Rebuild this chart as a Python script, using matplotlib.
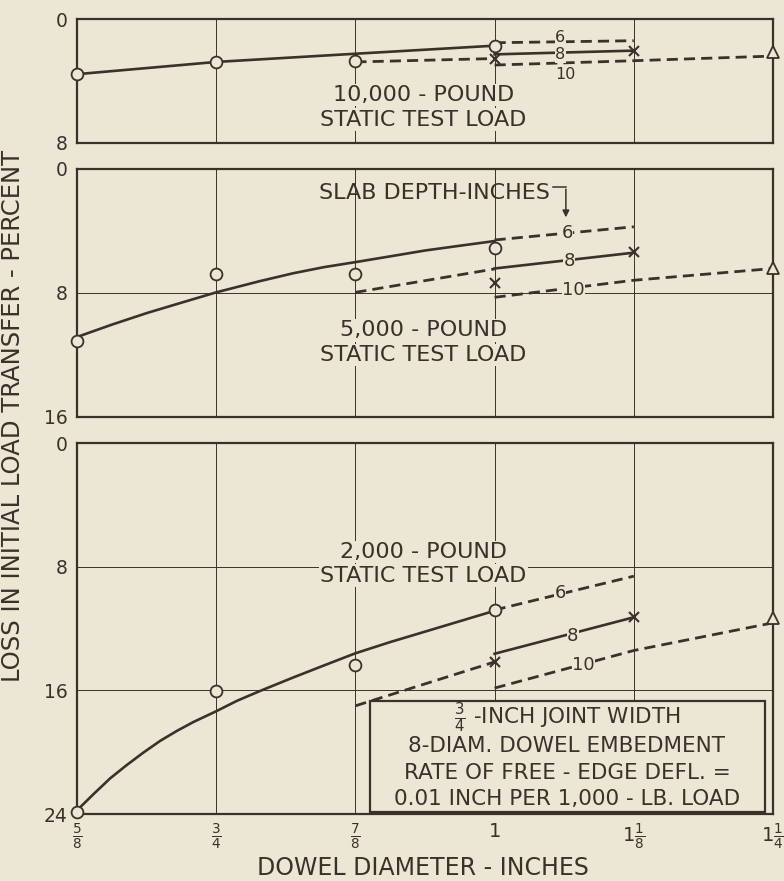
import matplotlib
matplotlib.use('Agg')
import matplotlib.pyplot as plt
from matplotlib.patches import Rectangle

plt.rcParams['font.family'] = ['DejaVu Sans']
plt.rcParams['mathtext.fontset'] = 'dejavusans'

INK = '#3b312b'
PAPER = '#ece6d4'

# dowel diameter axis (inches)
diam_ticks = [0.625, 0.75, 0.875, 1.0, 1.125, 1.25]
diam_labels = [r'$\frac{5}{8}$', r'$\frac{3}{4}$', r'$\frac{7}{8}$', '1',
               r'$1\frac{1}{8}$', r'$1\frac{1}{4}$']
test_diams = [0.625, 0.75, 0.875, 1.0]

# 10,000-pound static test load
l10_curve_x = [0.625, 0.75, 0.875, 1.0]
l10_curve_y = [3.56, 2.77, 2.24, 1.72]
l10_circles = [3.56, 2.77, 2.71, 1.76]
l10_d6_x = [1.0, 1.125]
l10_d6_y = [1.53, 1.40]
l10_d8_dash_x = [0.875, 1.0]
l10_d8_dash_y = [2.77, 2.55]
l10_d8_x = [1.0, 1.125]
l10_d8_y = [2.28, 2.04]
l10_xmarks = [2.6, 2.04]
l10_d10_x = [1.0, 1.125, 1.25]
l10_d10_y = [2.97, 2.69, 2.39]
l10_tri = [2.15]

# 5,000-pound static test load
l5_curve_x = [0.625, 0.656, 0.6875, 0.72, 0.75, 0.789, 0.819, 0.847, 0.875,
              0.906, 0.9375, 0.969, 1.0]
l5_curve_y = [10.84, 10.05, 9.3, 8.6, 7.96, 7.24, 6.73, 6.33, 6.01,
              5.64, 5.26, 4.95, 4.65]
l5_circles = [11.1, 6.77, 6.77, 5.12]
l5_d6_x = [1.0, 1.125]
l5_d6_y = [4.58, 3.73]
l5_d8_dash_x = [0.875, 1.0]
l5_d8_dash_y = [7.96, 6.45]
l5_d8_x = [1.0, 1.125]
l5_d8_y = [6.42, 5.4]
l5_xmarks = [7.35, 5.35]
l5_d10_x = [1.0, 1.125, 1.25]
l5_d10_y = [8.28, 7.18, 6.42]
l5_tri = [6.4]

# 2,000-pound static test load
l2_curve_x = [0.625, 0.6325, 0.64, 0.6548, 0.6697, 0.6847, 0.6996, 0.7145,
              0.7294, 0.75, 0.7685, 0.7893, 0.819, 0.8488, 0.875, 0.906,
              0.9375, 0.969, 1.0]
l2_curve_y = [23.76, 23.23, 22.7, 21.69, 20.83, 20.02, 19.27, 18.63,
              18.05, 17.35, 16.68, 16.04, 15.17, 14.33, 13.6, 12.88,
              12.2, 11.52, 10.85]
l2_circles = [23.9, 16.06, 14.36, 10.8]
l2_d6_x = [1.0, 1.125]
l2_d6_y = [10.8, 8.61]
l2_d8_dash_x = [0.875, 1.0]
l2_d8_dash_y = [17.0, 14.16]
l2_d8_x = [1.0, 1.125]
l2_d8_y = [13.63, 11.27]
l2_xmarks = [14.16, 11.27]
l2_d10_x = [1.0, 1.125, 1.25]
l2_d10_y = [15.85, 13.42, 11.63]
l2_tri = [11.3]

note_lines = [r'$\frac{3}{4}$ -INCH JOINT WIDTH',
              '8-DIAM. DOWEL EMBEDMENT',
              'RATE OF FREE - EDGE DEFL. =',
              '0.01 INCH PER 1,000 - LB. LOAD']

DASH = (0, (4, 2.2))

fig = plt.figure(figsize=(7.84, 8.81), dpi=100, facecolor=PAPER)
left, width = 0.0982, 0.8878
ax10 = fig.add_axes([left, 0.8377, width, 0.1407])
ax5 = fig.add_axes([left, 0.5267, width, 0.2815])
ax2 = fig.add_axes([left, 0.0760, width, 0.4211])


def setup(ax, ymax, yticks, show_x):
    ax.set_facecolor(PAPER)
    ax.set_xlim(0.625, 1.25)
    ax.set_ylim(ymax, 0)
    ax.set_xticks(diam_ticks)
    ax.set_yticks(yticks)
    if show_x:
        ax.set_xticklabels(diam_labels)
    else:
        ax.set_xticklabels([])
    ax.tick_params(length=0, colors=INK, labelsize=13.5, pad=7)
    ax.tick_params(axis='x', labelsize=14, pad=6)
    ax.grid(True, color=INK, lw=0.7)
    ax.set_axisbelow(True)
    for s in ax.spines.values():
        s.set_color(INK)
        s.set_linewidth(1.6)


def draw_panel(ax, cx, cy, circ, d6x, d6y, d8dx, d8dy, d8x, d8y, xm, d10x, d10y, tri):
    ax.plot(cx, cy, color=INK, lw=1.9, zorder=3)
    ax.plot(d6x, d6y, color=INK, lw=2, ls=DASH, zorder=3)
    ax.plot(d8dx, d8dy, color=INK, lw=2, ls=DASH, zorder=3)
    ax.plot(d8x, d8y, color=INK, lw=1.9, zorder=3)
    ax.plot(d10x, d10y, color=INK, lw=2, ls=DASH, zorder=3)
    ax.plot(test_diams, circ, ls='none', marker='o', ms=8.5, mfc=PAPER, mec=INK,
            mew=1.3, zorder=4, clip_on=False)
    ax.plot([1.0, 1.125], xm, ls='none', marker='x', ms=6.5, mec=INK, mew=1.5,
            zorder=4)
    ax.plot([1.25], tri, ls='none', marker='^', ms=9, mfc=PAPER, mec=INK,
            mew=1.3, zorder=4, clip_on=False)


def curve_label(ax, x, y, s, size=13):
    ax.text(x, y, s, ha='center', va='center', fontsize=size, color=INK, zorder=5,
            bbox=dict(fc=PAPER, ec='none', pad=0.3))


def load_label(ax, y1, y2, title):
    box = dict(fc=PAPER, ec='none', pad=1)
    ax.text(0.936, y1, title, ha='center', va='center', fontsize=16, color=INK,
            zorder=5, bbox=box)
    ax.text(0.936, y2, 'STATIC TEST LOAD', ha='center', va='center', fontsize=16,
            color=INK, zorder=5, bbox=box)


setup(ax10, 8, [0, 8], False)
setup(ax5, 16, [0, 8, 16], False)
setup(ax2, 24, [0, 8, 16, 24], True)

draw_panel(ax10, l10_curve_x, l10_curve_y, l10_circles, l10_d6_x, l10_d6_y,
           l10_d8_dash_x, l10_d8_dash_y, l10_d8_x, l10_d8_y, l10_xmarks,
           l10_d10_x, l10_d10_y, l10_tri)
draw_panel(ax5, l5_curve_x, l5_curve_y, l5_circles, l5_d6_x, l5_d6_y,
           l5_d8_dash_x, l5_d8_dash_y, l5_d8_x, l5_d8_y, l5_xmarks,
           l5_d10_x, l5_d10_y, l5_tri)
draw_panel(ax2, l2_curve_x, l2_curve_y, l2_circles, l2_d6_x, l2_d6_y,
           l2_d8_dash_x, l2_d8_dash_y, l2_d8_x, l2_d8_y, l2_xmarks,
           l2_d10_x, l2_d10_y, l2_tri)

# inline slab depth labels
curve_label(ax10, 1.059, 1.2, '6', 11.5)
curve_label(ax10, 1.059, 2.3, '8', 11.5)
curve_label(ax10, 1.064, 3.55, '10', 11.5)
curve_label(ax5, 1.065, 4.12, '6')
curve_label(ax5, 1.067, 5.95, '8')
curve_label(ax5, 1.071, 7.8, '10')
curve_label(ax2, 1.059, 9.7, '6')
curve_label(ax2, 1.070, 12.5, '8')
curve_label(ax2, 1.080, 14.35, '10')

load_label(ax10, 4.9, 6.5, '10,000 - POUND')
load_label(ax5, 10.4, 12.0, '5,000 - POUND')
load_label(ax2, 7.05, 8.58, '2,000 - POUND')

# slab depth key with bent arrow
ax5.text(1.05, 1.57, 'SLAB DEPTH-INCHES', ha='right', va='center',
         fontsize=16, color=INK)
ax5.plot([1.052, 1.064], [1.15, 1.15], color=INK, lw=1.1)
ax5.annotate('', xy=(1.064, 3.3), xytext=(1.064, 1.12),
             arrowprops=dict(arrowstyle='-|>', color=INK, lw=1.1, mutation_scale=10))

# conditions box
ax2.add_patch(Rectangle((0.888, 16.7), 0.355, 7.2, fc=PAPER, ec=INK, lw=1.6, zorder=6))
for yy, line in zip([17.75, 19.6, 21.35, 23.05], note_lines):
    ax2.text(1.065, yy, line, ha='center', va='center', fontsize=15.5, color=INK,
             zorder=7)

fig.text(0.017, 0.528, 'LOSS IN INITIAL LOAD TRANSFER - PERCENT', rotation=90,
         ha='center', va='center', fontsize=17.5, color=INK)
fig.text(0.54, 0.015, 'DOWEL DIAMETER - INCHES', ha='center', va='center',
         fontsize=17, color=INK)

fig.savefig('out.png', dpi=100, facecolor=PAPER)
